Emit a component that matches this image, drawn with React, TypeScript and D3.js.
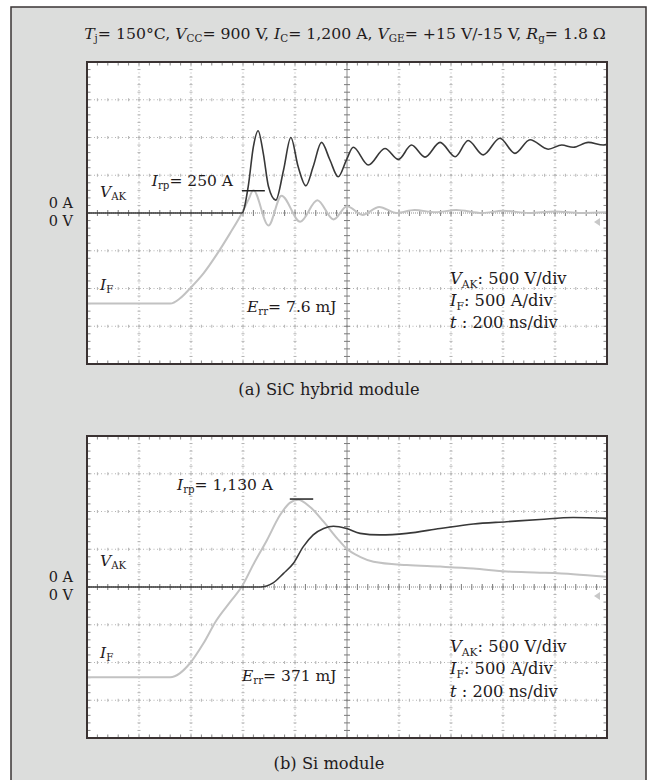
import React from 'react';
import * as d3 from 'd3';

// ---------- data (time in ns, voltage in V, current in A) ----------
const TIME_DOMAIN = [0, 2000]; // 200 ns/div, 10 div
const VALUE_DOMAIN = [-2000, 2000]; // 500 V/div or 500 A/div, 8 div

// (a) SiC hybrid module
const sicVakTime = [0, 596, 620, 640, 658, 678, 698, 726, 756, 784, 812, 842, 870, 902, 934, 966, 998, 1024, 1082, 1146, 1198, 1248, 1300, 1358, 1416, 1466, 1524, 1588, 1646, 1704, 1774, 1826, 1870, 1928, 1986, 2000];
const sicVak = [0, 0, 350, 880, 1090, 790, 350, 170, 570, 1000, 615, 360, 615, 935, 705, 480, 705, 870, 635, 855, 710, 900, 740, 935, 745, 960, 770, 990, 790, 970, 845, 900, 870, 935, 900, 910];
const sicIfTime = [0, 320, 358, 396, 448, 498, 550, 596, 620, 640, 698, 748, 820, 886, 948, 1000, 1060, 1124, 1190, 1260, 1340, 1420, 1520, 1600, 1700, 1800, 1900, 2000];
const sicIf = [-1200, -1200, -1130, -1000, -800, -555, -270, 0, 170, 300, -165, 230, -115, 170, -85, 90, -25, 80, 0, 40, 10, 40, 0, 30, 0, 20, 0, 10];
const sicIrpSpan = [596, 684];
const sicIrpLevel = 295;

// (b) Si module
const siVakTime = [0, 666, 716, 756, 794, 832, 870, 910, 948, 998, 1050, 1126, 1230, 1358, 1486, 1614, 1742, 1870, 2000];
const siVak = [0, 0, 55, 180, 315, 535, 690, 775, 805, 775, 710, 690, 710, 775, 835, 865, 895, 920, 910];
const siIfTime = [0, 320, 358, 396, 448, 498, 550, 598, 640, 692, 742, 780, 812, 858, 910, 962, 998, 1050, 1102, 1230, 1358, 1486, 1614, 1742, 1870, 2000];
const siIf = [-1195, -1195, -1140, -1010, -745, -440, -200, 20, 300, 620, 950, 1115, 1155, 1060, 865, 645, 510, 400, 335, 290, 270, 245, 205, 190, 170, 135];
const siIrpSpan = [780, 870];
const siIrpLevel = 1165;

const INK = '#1f1b1c';
const FONT = "'DejaVu Serif', 'Liberation Serif', serif";

type Part = [string, 'i' | 's' | 'n'];

function Rich({ x, y, parts, size = 15.5, anchor = 'start' }: { x: number; y: number; parts: Part[]; size?: number; anchor?: string }) {
  let lowered = false;
  const shift = size * 0.22;
  return (
    <text x={x} y={y} fontSize={size} textAnchor={anchor} fill={INK} style={{ whiteSpace: 'pre' }}>
      {parts.map(([t, k], i) => {
        let dy = 0;
        if (k === 's' && !lowered) { dy = shift; lowered = true; }
        else if (k !== 's' && lowered) { dy = -shift; lowered = false; }
        return (
          <tspan key={i} dy={dy || undefined} fontStyle={k === 'i' ? 'italic' : undefined} fontSize={k === 's' ? size * 0.66 : undefined}>{t}</tspan>
        );
      })}
    </text>
  );
}

type ScopeProps = {
  top: number;
  height: number;
  vT: number[]; vV: number[]; iT: number[]; iV: number[];
  irpSpan: number[]; irpLevel: number;
  irpText: string; irpX: number; irpY: number; irpAnchor: string;
  errText: string; errX: number; errY: number;
  vakY: number; ifY: number; scaleY: number[];
};

function Scope(p: ScopeProps) {
  const left = 87, right = 607;
  const x = d3.scaleLinear().domain(TIME_DOMAIN).range([left, right]);
  const y = d3.scaleLinear().domain(VALUE_DOMAIN).range([p.top + p.height, p.top]);
  const line = d3.line<[number, number]>().x(d => x(d[0])).y(d => y(d[1])).curve(d3.curveMonotoneX);
  const vPath = line(p.vT.map((t, i) => [t, p.vV[i]] as [number, number])) || '';
  const iPath = line(p.iT.map((t, i) => [t, p.iV[i]] as [number, number])) || '';
  const cy = y(0), cx = x(1000);
  const majorX = d3.range(200, 2000, 200).filter(v => v !== 1000);
  const majorY = d3.range(-1500, 2000, 500).filter(v => v !== 0);
  const minorX = d3.range(0, 2001, 40);
  const minorY = d3.range(-2000, 2001, 100);
  const bottom = p.top + p.height;
  const gridCol = '#b3b3b3';
  const rs = 16.3;
  return (
    <g>
      <rect x={left} y={p.top} width={right - left} height={p.height} fill="#fff" />
      {majorX.map(g => (
        <g key={'vx' + g}>
          <line x1={x(g)} x2={x(g)} y1={p.top} y2={bottom} stroke={gridCol} strokeWidth={1} strokeDasharray="1 2.5" />
          {minorY.map(m => <line key={m} x1={x(g) - 1.5} x2={x(g) + 1.5} y1={y(m)} y2={y(m)} stroke={gridCol} strokeWidth={1} />)}
        </g>
      ))}
      {majorY.map(g => (
        <g key={'hy' + g}>
          <line x1={left} x2={right} y1={y(g)} y2={y(g)} stroke={gridCol} strokeWidth={1} strokeDasharray="1 2.5" />
          {minorX.map(m => <line key={m} x1={x(m)} x2={x(m)} y1={y(g) - 1.5} y2={y(g) + 1.5} stroke={gridCol} strokeWidth={1} />)}
        </g>
      ))}
      {/* center axes */}
      <line x1={cx} x2={cx} y1={p.top} y2={bottom} stroke="#8c8c8c" strokeWidth={1} />
      <line x1={left} x2={right} y1={cy} y2={cy} stroke="#8c8c8c" strokeWidth={1} strokeDasharray="1 1" />
      {minorY.map(m => <line key={'cyt' + m} x1={cx - 3} x2={cx + 3} y1={y(m)} y2={y(m)} stroke="#7a7a7a" strokeWidth={1} />)}
      {minorX.map(m => <line key={'cxt' + m} x1={x(m)} x2={x(m)} y1={cy - 3} y2={cy + 3} stroke="#7a7a7a" strokeWidth={1} />)}
      {/* border ticks */}
      {minorX.map(m => (
        <g key={'bx' + m}>
          <line x1={x(m)} x2={x(m)} y1={p.top} y2={p.top + 3.5} stroke="#888" strokeWidth={1} />
          <line x1={x(m)} x2={x(m)} y1={bottom - 3.5} y2={bottom} stroke="#888" strokeWidth={1} />
        </g>
      ))}
      {minorY.map(m => (
        <g key={'by' + m}>
          <line x1={left} x2={left + 3.5} y1={y(m)} y2={y(m)} stroke="#888" strokeWidth={1} />
          <line x1={right - 3.5} x2={right} y1={y(m)} y2={y(m)} stroke="#888" strokeWidth={1} />
        </g>
      ))}
      {/* traces */}
      <path d={iPath} fill="none" stroke="#c2c2c2" strokeWidth={2} strokeLinejoin="round" />
      <path d={vPath} fill="none" stroke="#383838" strokeWidth={1.6} strokeLinejoin="round" />
      {/* Irp marker */}
      <line x1={x(p.irpSpan[0])} x2={x(p.irpSpan[1])} y1={y(p.irpLevel)} y2={y(p.irpLevel)} stroke="#222" strokeWidth={1.5} />
      {/* ground marker */}
      <polygon points={`${right - 13},${cy + 9} ${right - 7},${cy + 5} ${right - 7},${cy + 13}`} fill="#c8c8c8" />
      <rect x={left} y={p.top} width={right - left} height={p.height} fill="none" stroke="#3a3232" strokeWidth={2} />
      {/* labels */}
      <text x={73} y={cy - 5} fontSize={14.5} textAnchor="end" fill={INK}>0 A</text>
      <text x={73} y={cy + 13} fontSize={14.5} textAnchor="end" fill={INK}>0 V</text>
      <Rich x={100} y={p.vakY} parts={[['V', 'i'], ['AK', 's']]} />
      <Rich x={100} y={p.ifY} parts={[['I', 'i'], ['F', 's']]} />
      <Rich x={p.irpX} y={p.irpY} anchor={p.irpAnchor} parts={[['I', 'i'], ['rp', 's'], [p.irpText, 'n']]} />
      <Rich x={p.errX} y={p.errY} parts={[['E', 'i'], ['rr', 's'], [p.errText, 'n']]} />
      <Rich x={450} y={p.scaleY[0]} size={rs} parts={[['V', 'i'], ['AK', 's'], [': 500 V/div', 'n']]} />
      <Rich x={450} y={p.scaleY[1]} size={rs} parts={[['I', 'i'], ['F', 's'], [': 500 A/div', 'n']]} />
      <Rich x={450} y={p.scaleY[2]} size={rs} parts={[['t', 'i'], [' : 200 ns/div', 'n']]} />
    </g>
  );
}

export default function App() {
  return (
    <svg width={651} height={780} style={{ position: 'absolute', left: 0, top: 0, background: '#fff' }} fontFamily={FONT}>
      <rect x={11} y={7} width={635} height={800} fill="#dcdddc" stroke="#3a3434" strokeWidth={1.5} />
      <Rich x={345} y={39} anchor="middle" size={15.7} parts={[
        ['T', 'i'], ['j', 's'], ['= 150°C, ', 'n'],
        ['V', 'i'], ['CC', 's'], ['= 900 V, ', 'n'],
        ['I', 'i'], ['C', 's'], ['= 1,200 A, ', 'n'],
        ['V', 'i'], ['GE', 's'], ['= +15 V/-15 V, ', 'n'],
        ['R', 'i'], ['g', 's'], ['= 1.8 Ω', 'n'],
      ]} />
      <Scope top={62} height={302}
        vT={sicVakTime} vV={sicVak} iT={sicIfTime} iV={sicIf}
        irpSpan={sicIrpSpan} irpLevel={sicIrpLevel}
        irpText="= 250 A" irpX={233} irpY={186} irpAnchor="end"
        errText="= 7.6 mJ" errX={247} errY={312}
        vakY={197} ifY={290} scaleY={[284, 306, 328]} />
      <text x={329} y={395} fontSize={16.3} textAnchor="middle" fill={INK}>(a) SiC hybrid module</text>
      <Scope top={436} height={302}
        vT={siVakTime} vV={siVak} iT={siIfTime} iV={siIf}
        irpSpan={siIrpSpan} irpLevel={siIrpLevel}
        irpText="= 1,130 A" irpX={177} irpY={490} irpAnchor="start"
        errText="= 371 mJ" errX={242} errY={681}
        vakY={566} ifY={658} scaleY={[652, 674, 697]} />
      <text x={329} y={769} fontSize={16.3} textAnchor="middle" fill={INK}>(b) Si module</text>
    </svg>
  );
}
